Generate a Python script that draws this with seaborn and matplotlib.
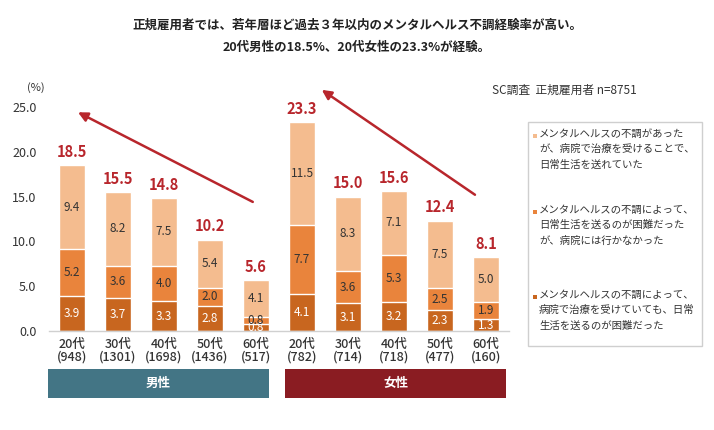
import pandas as pd
import matplotlib.pyplot as plt
import matplotlib.patches as mpatches
import seaborn as sns

# data
ages = ["20代", "30代", "40代", "50代", "60代"]
men_n = [948, 1301, 1698, 1436, 517]
women_n = [782, 714, 718, 477, 160]

# bottom: treated but still had difficulty in daily life
men_dark = [3.9, 3.7, 3.3, 2.8, 0.8]
women_dark = [4.1, 3.1, 3.2, 2.3, 1.3]
# middle: had difficulty but did not go to hospital
men_mid = [5.2, 3.6, 4.0, 2.0, 0.8]
women_mid = [7.7, 3.6, 5.3, 2.5, 1.9]
# top: treated and could lead daily life
men_light = [9.4, 8.2, 7.5, 5.4, 4.1]
women_light = [11.5, 8.3, 7.1, 7.5, 5.0]

men_total = [18.5, 15.5, 14.8, 10.2, 5.6]
women_total = [23.3, 15.0, 15.6, 12.4, 8.1]

legend_labels = [
    "メンタルヘルスの不調があった\nが、病院で治療を受けることで、\n日常生活を送れていた",
    "メンタルヘルスの不調によって、\n日常生活を送るのが困難だった\nが、病院には行かなかった",
    "メンタルヘルスの不調によって、\n病院で治療を受けていても、日常\n生活を送るのが困難だった",
]

C_LIGHT = "#F4BC8F"
C_MID = "#E9843C"
C_DARK = "#C8661F"
C_RED = "#B8262C"

labels = [f"{a}\n({n})" for a, n in zip(ages, men_n)] + [f"{a}\n({n})" for a, n in zip(ages, women_n)]
df = pd.DataFrame({
    "label": labels,
    "dark": men_dark + women_dark,
    "mid": men_mid + women_mid,
    "light": men_light + women_light,
    "total": men_total + women_total,
})
df["c_mid"] = df["dark"] + df["mid"]
df["c_top"] = df["c_mid"] + df["light"]

sns.set_style("white")
plt.rcParams["font.family"] = ["Noto Sans CJK JP", "DejaVu Sans"]

W, H = 714, 430
fig = plt.figure(figsize=(W / 100, H / 100), dpi=100)


def fx(x):
    return x / W


def fy(y):
    return 1 - y / H


ax = fig.add_axes([fx(49), fy(331), 460 / W, (331 - 80) / H])

bw = 0.565
sns.barplot(data=df, x="label", y="c_top", order=labels, color=C_LIGHT, width=bw, saturation=1, ax=ax)
sns.barplot(data=df, x="label", y="c_mid", order=labels, color=C_MID, width=bw, saturation=1, ax=ax)
sns.barplot(data=df, x="label", y="dark", order=labels, color=C_DARK, width=bw, saturation=1, ax=ax)

# segment and total labels
for i, row in df.iterrows():
    ax.text(i, row["dark"] / 2, f"{row['dark']:.1f}", ha="center", va="center", fontsize=8.5, color="white")
    ax.text(i, row["dark"] + row["mid"] / 2, f"{row['mid']:.1f}", ha="center", va="center", fontsize=8.5, color="#333333")
    ax.text(i, row["c_mid"] + row["light"] / 2, f"{row['light']:.1f}", ha="center", va="center", fontsize=8.5, color="#333333")
    ax.text(i, row["c_top"] + 0.6, f"{row['total']:.1f}", ha="center", va="bottom", fontsize=10.5, color=C_RED, fontweight="bold")

# trend arrows
arrow = dict(arrowstyle="-|>", color=C_RED, lw=1.8, mutation_scale=14, shrinkA=0, shrinkB=0)
ax.annotate("", xy=(0.13, 24.4), xytext=(3.93, 14.4), arrowprops=arrow)
ax.annotate("", xy=(5.43, 26.9), xytext=(8.76, 15.2), arrowprops=arrow)

ax.set_xlim(-0.5, 9.5)
ax.set_ylim(0, 28)
ax.set_yticks([0, 5, 10, 15, 20, 25])
ax.set_yticklabels([f"{v:.1f}" for v in [0, 5, 10, 15, 20, 25]], fontsize=9, color="#333333")
ax.set_xticks(range(len(labels)))
ax.set_xticklabels(labels, fontsize=9, color="#333333", linespacing=1.0, fontweight="medium")
ax.tick_params(axis="x", length=0, pad=5)
ax.tick_params(axis="y", length=0, pad=9)
ax.set_xlabel("")
ax.set_ylabel("")
for s in ["top", "right", "left"]:
    ax.spines[s].set_visible(False)
ax.spines["bottom"].set_color("#D0D0D0")
ax.spines["bottom"].set_linewidth(1)

# titles and notes
fig.text(0.5, fy(25), "正規雇用者では、若年層ほど過去３年以内のメンタルヘルス不調経験率が高い。",
         ha="center", va="center", fontsize=9, fontweight="bold", color="#222222")
fig.text(0.5, fy(47), "20代男性の18.5%、20代女性の23.3%が経験。",
         ha="center", va="center", fontsize=9, fontweight="bold", color="#222222")
fig.text(fx(36), fy(88), "(%)", ha="center", va="center", fontsize=8, color="#333333")
fig.text(fx(637), fy(90), "SC調査  正規雇用者 n=8751", ha="right", va="center", fontsize=8.5, color="#333333")

# legend box
fig.add_artist(mpatches.Rectangle((fx(528), fy(346)), (702 - 528) / W, (346 - 122) / H,
                                  transform=fig.transFigure, facecolor="white", edgecolor="#CFCFCF", lw=1))
for ytop, txt, col in zip([136, 212, 297], legend_labels, [C_LIGHT, C_MID, C_DARK]):
    fig.add_artist(mpatches.Rectangle((fx(533), fy(ytop + 2)), 4 / W, 4 / H,
                                      transform=fig.transFigure, facecolor=col, edgecolor="none"))
    fig.text(fx(539), fy(ytop - 7), txt, ha="left", va="top", fontsize=7.5, color="#333333", linespacing=1.65)

# gender bands
for x0, x1, name, col in [(48, 269, "男性", "#437585"), (285, 506, "女性", "#8A1C22")]:
    fig.add_artist(mpatches.Rectangle((fx(x0), fy(398)), (x1 - x0) / W, (398 - 369) / H,
                                      transform=fig.transFigure, facecolor=col, edgecolor="none"))
    fig.text(fx((x0 + x1) / 2), fy(383.5), name, ha="center", va="center", fontsize=9,
             color="white", fontweight="bold")

fig.savefig("out.png", dpi=100, facecolor="white")
